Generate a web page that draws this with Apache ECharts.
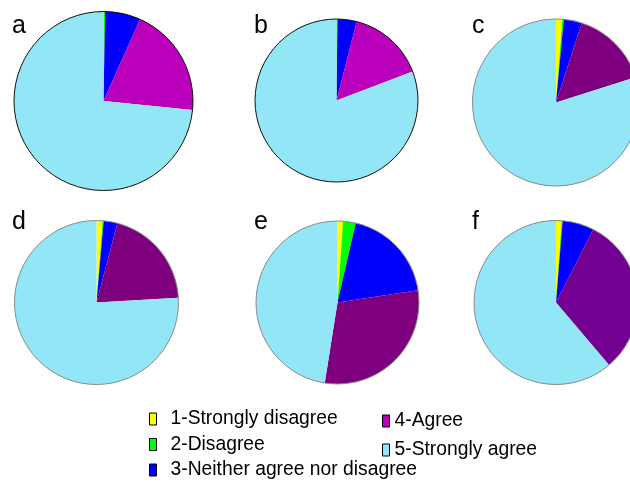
<!DOCTYPE html>
<html>
<head>
<meta charset="utf-8">
<script src="https://cdn.jsdelivr.net/npm/echarts@6/dist/echarts.min.js"></script>
<style>
  html, body { margin: 0; padding: 0; background: #fff; }
  #chart { width: 630px; height: 486px; }
</style>
</head>
<body>
<div id="chart"></div>
<script>
// Likert response categories (legend order)
const categories = [
  '1-Strongly disagree',
  '2-Disagree',
  '3-Neither agree nor disagree',
  '4-Agree',
  '5-Strongly agree'
];

// Panel labels
const panels = ['a', 'b', 'c', 'd', 'e', 'f'];

// Share of responses (%) per panel, in category order
const panelA = [0, 0.3, 6.4, 19.9, 73.4];
const panelB = [0, 0.2, 3.8, 15.2, 80.8];
const panelC = [1.2, 0.3, 3.5, 15.1, 79.9];
const panelD = [1.2, 0.2, 2.7, 20.0, 75.9];
const panelE = [1.1, 2.5, 19.0, 29.9, 47.5];
const panelF = [1.1, 0.2, 6.2, 31.3, 61.2];
const panelValues = [panelA, panelB, panelC, panelD, panelE, panelF];

// Styling
const baseColors = ['#ffff00', '#00ff00', '#0000ff', '#bb00bb', '#93e6f6'];
const agreeColors = ['#bb00bb', '#bb00bb', '#7f007f', '#7f007f', '#7f007f', '#730090'];
const outlineColors = ['#111', '#111', '#8a8a8a', '#8a8a8a', '#8a8a8a', '#8a8a8a'];

// Pie placement: [centerX, centerY, radius]
const layout = [
  [103.5, 101, 89.5],
  [336.5, 100.5, 81.5],
  [556, 102.5, 83.5],
  [96.5, 302.5, 82],
  [337.5, 302.5, 81.5],
  [556, 302.5, 82]
];
const labelPos = [[12, 14], [254, 14], [472, 14], [12, 210], [254, 210], [472, 210]];

const FONT = '"Liberation Sans", Arial, sans-serif';

const series = [];
panelValues.forEach((vals, i) => {
  const [cx, cy, r] = layout[i];
  series.push({
    type: 'pie',
    name: 'panel-' + panels[i],
    center: [cx, cy],
    radius: [0, r],
    startAngle: 90,
    clockwise: true,
    label: { show: false },
    labelLine: { show: false },
    emphasis: { disabled: true },
    animation: false,
    itemStyle: { borderWidth: 0 },
    data: categories.map((name, k) => ({
      name,
      value: vals[k],
      itemStyle: { color: k === 3 ? agreeColors[i] : baseColors[k] }
    }))
  });
  // outer circle outline
  series.push({
    type: 'pie',
    name: 'outline-' + panels[i],
    center: [cx, cy],
    radius: [0, r],
    silent: true,
    label: { show: false },
    labelLine: { show: false },
    emphasis: { disabled: true },
    animation: false,
    itemStyle: { color: 'rgba(0,0,0,0)', borderColor: outlineColors[i], borderWidth: 1 },
    data: [{ name: 'outline', value: 1 }]
  });
});

const legendItem = { borderColor: '#000', borderWidth: 1 };
const legendText = (gap) => ({
  fontFamily: FONT, fontSize: 19.3, lineHeight: 20, color: '#000', padding: [0, 0, 0, gap]
});

const option = {
  backgroundColor: '#fff',
  animation: false,
  title: panels.map((p, i) => ({
    text: p,
    left: labelPos[i][0],
    top: labelPos[i][1],
    padding: 0,
    textStyle: { fontFamily: FONT, fontSize: 25, fontWeight: 'normal', color: '#000' }
  })),
  legend: [
    {
      data: categories.slice(0, 3),
      orient: 'vertical',
      left: 149,
      top: 409,
      height: 77,
      padding: 0,
      itemWidth: 7,
      itemHeight: 12,
      itemGap: 5.5,
      icon: 'rect',
      selectedMode: false,
      itemStyle: legendItem,
      textStyle: legendText(9)
    },
    {
      data: categories.slice(3),
      orient: 'vertical',
      left: 382,
      top: 411,
      height: 75,
      padding: 0,
      itemWidth: 7,
      itemHeight: 12,
      itemGap: 9,
      icon: 'rect',
      selectedMode: false,
      itemStyle: legendItem,
      textStyle: legendText(0)
    }
  ],
  series
};

const chart = echarts.init(document.getElementById('chart'), null, { renderer: 'canvas' });
chart.setOption(option);
</script>
</body>
</html>
